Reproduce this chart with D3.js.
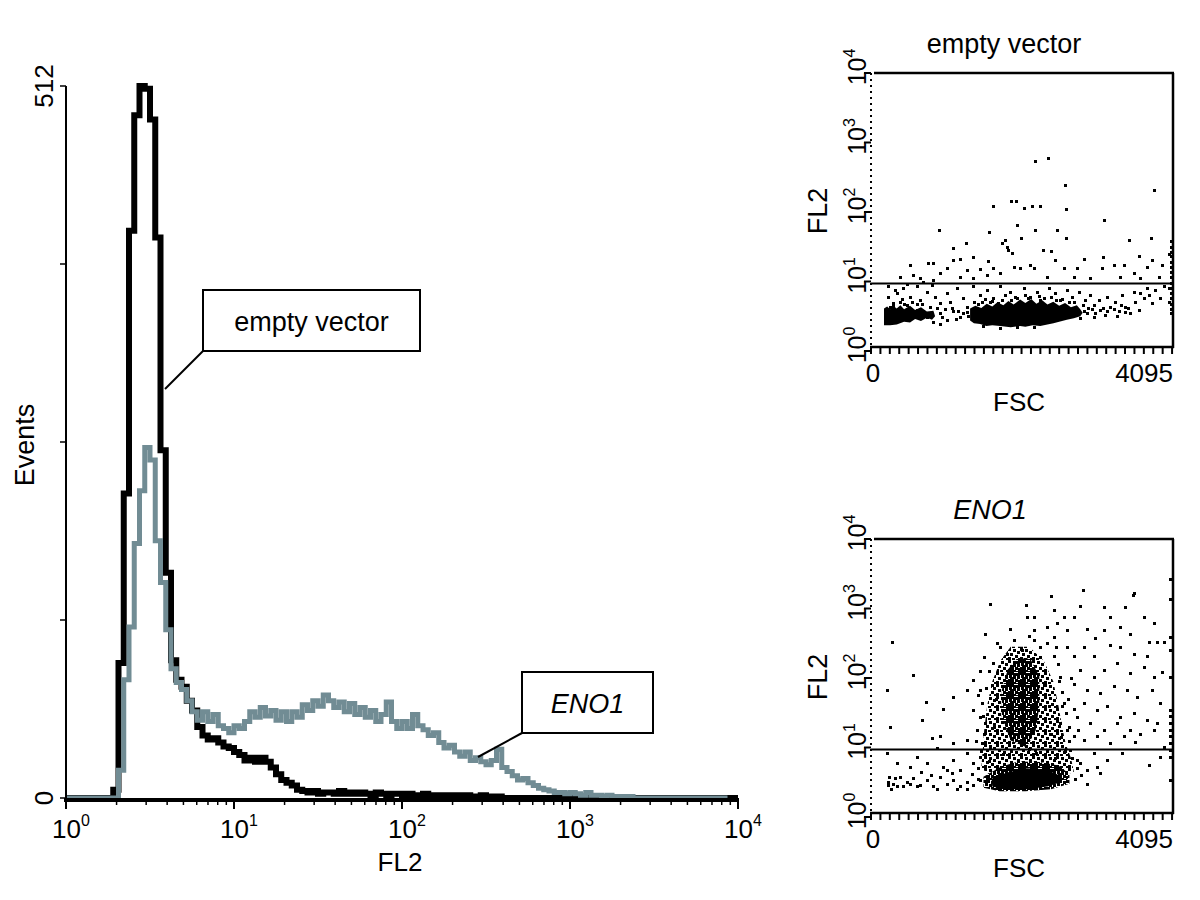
<!DOCTYPE html>
<html><head><meta charset="utf-8">
<script src="https://cdn.jsdelivr.net/npm/d3@7"></script>
<style>body{margin:0;background:#fff}svg{display:block}</style>
</head><body>
<script>
// ---------------- DATA ----------------
// Histogram: 128 channels over 4 decades of FL2 (channel c starts at log10 = c/32)
const histChannels = d3.range(128);
const emptyVectorCounts = [0,0,0,0,0,0,0,0,0,6,97,219,408,491,512,510,488,403,250,162,99,85,80,70,63,51,45,42,43,40,37,36,33,31,27,29,26,29,26,22,17,13,11,9,6,5,4,5,3,4,4,3,5,3,4,3,4,3,2,4,3,2,3,3,2,3,2,2,3,2,1,2,2,1,2,1,2,1,1,2,1,1,1,0,0,0,0,0,0,0,0,0,0,0,0,0,0,0,0,0,0,0,0,0,0,0,0,0,0,0,0,0,0,0,0,0,0,0,0,0,0,0,0,0,0,0,0,0];
const eno1Counts = [0,0,0,0,0,0,0,0,0,0,20,85,123,183,221,252,243,185,155,121,93,83,78,70,62,56,62,55,60,52,50,47,52,50,55,62,58,65,59,63,56,62,55,62,58,67,63,70,66,74,70,65,69,62,68,60,65,58,63,55,60,69,55,50,55,50,60,52,49,45,47,40,36,38,33,30,33,27,29,26,24,27,35,22,19,16,13,14,11,9,7,6,5,4,4,3,4,3,2,4,2,2,1,2,1,1,1,1,0,0,0,0,0,0,0,0,0,0,0,0,0,0,0,0,0,0];
const histYTicks = [0,128,256,384,512];
const histYLabels = ["0","512"];
const decadeExps = [0,1,2,3,4];
const histXLabel = "FL2";
const histYLabel = "Events";
const calloutEmpty = "empty vector";
const calloutEno = "ENO1";

// Scatter plots: points as [FSC channel, log10 FL2]
const fscTickStep = 128;
const fscLabels = ["0","4095"];
const gateLog = 0.97;
const evCoreLeft = [[177,0.61],[220,0.64],[260,0.60],[300,0.65],[350,0.61],[400,0.66],[450,0.60],[531,0.65],[600,0.59],[680,0.63],[760,0.57],[849,0.58],[872,0.50],[830,0.45],[760,0.48],[680,0.43],[600,0.46],[531,0.41],[450,0.42],[350,0.38],[260,0.37],[177,0.37]];
const evCoreMain = [[1348,0.61],[1420,0.65],[1500,0.62],[1575,0.68],[1650,0.64],[1720,0.70],[1800,0.66],[1870,0.72],[1940,0.67],[2029,0.74],[2100,0.69],[2180,0.75],[2250,0.68],[2330,0.73],[2400,0.67],[2480,0.71],[2560,0.65],[2640,0.69],[2720,0.63],[2800,0.66],[2847,0.60],[2880,0.55],[2847,0.50],[2760,0.47],[2665,0.45],[2560,0.42],[2483,0.40],[2400,0.38],[2302,0.36],[2200,0.37],[2100,0.35],[2029,0.36],[1900,0.34],[1757,0.36],[1650,0.37],[1570,0.36],[1485,0.39],[1400,0.40],[1348,0.44]];
const evPoints = [[2234,2.74],[2402,2.78],[2633,2.39],[3854,2.31],[1653,2.09],[1902,2.16],[1975,2.16],[2084,2.06],[2197,2.09],[2302,2.09],[2651,2.04],[3164,1.89],[1984,1.81],[931,1.74],[2234,1.74],[2529,1.74],[1612,1.71],[2656,1.62],[2043,1.62],[1825,1.60],[3809,1.62],[3505,1.59],[1289,1.56],[1112,1.48],[2338,1.46],[2447,1.44],[1870,1.45],[3641,1.36],[3823,1.31],[3155,1.35],[3301,1.24],[3437,1.24],[531,1.24],[781,1.27],[840,1.26],[1121,1.31],[1212,1.33],[1394,1.35],[1598,1.29],[1666,1.19],[1757,1.12],[1939,1.21],[2029,1.20],[2166,1.24],[2211,1.19],[2506,1.31],[2620,1.19],[2801,1.19],[2892,1.33],[1780,1.55],[1848,1.50],[1916,1.41],[3959,1.24],[3755,1.21],[3573,1.12],[3142,1.19],[940,1.12],[1031,1.19],[1303,1.17],[1485,1.18],[395,1.07],[577,1.09],[667,1.05],[849,1.02],[1212,1.07],[1394,1.05],[1575,1.09],[2393,1.07],[2756,1.07],[2983,1.05],[3391,1.07],[3664,1.05],[3913,1.07],
[4080,1.58],[4080,1.50],[4080,1.43],[4080,1.36],[4080,1.28],[4080,1.21],[4080,1.13],[4080,1.06],[4080,0.98],[4080,0.91],[4080,0.83],[4080,0.76],[4080,0.68],[4080,0.61],[4080,0.54],[4060,1.40],[4060,0.90],[4060,0.70],
[236,0.93],[350,0.83],[440,0.90],[531,0.78],[622,0.93],[667,0.73],[758,0.85],[826,0.95],[872,0.78],[940,0.69],[1031,0.83],[1076,0.71],[1167,0.90],[1258,0.76],[1303,0.64],[940,0.54],[1031,0.45],[1121,0.57],[1212,0.49],[622,0.59],[758,0.49],[849,0.42],[236,0.78],[304,0.69],[395,0.71],[486,0.66],[259,0.64],
[1394,0.93],[1485,0.81],[1575,0.88],[1666,0.76],[1757,0.93],[1825,0.81],[1893,0.85],[1984,0.76],[2075,0.90],[2166,0.78],[2256,0.85],[2347,0.76],[2415,0.90],[2506,0.83],[2574,0.73],[2665,0.88],[2733,0.78],[2824,0.85],[2915,0.73],[1507,0.71],[1734,0.69],
[2983,0.81],[3028,0.66],[3096,0.73],[3119,0.59],[3210,0.78],[3255,0.64],[3323,0.71],[3369,0.57],[3414,0.81],[3460,0.64],[3528,0.54],[3596,0.71],[3641,0.59],[3709,0.76],[3777,0.81],[3823,0.69],[3755,0.90],[3868,0.88],[3936,0.76],[3982,0.93],[2937,0.54],[2847,0.47],[3028,0.49],[3210,0.57],[3573,0.85],[3664,0.83],
[1757,0.33],[1984,0.35],[2211,0.34],[1530,0.36],[940,0.39],[486,0.97],[713,1.0],
[1100,0.62],[1180,0.58],[1250,0.55],[1320,0.50],[1000,0.60],[2900,0.58],[2950,0.62],[3050,0.55],[3150,0.62],[3300,0.60],[3400,0.66],[3500,0.62],[2100,0.80],[1900,0.74],[2300,0.73],[2450,0.78],[1650,0.72],[1550,0.75],[560,0.70],[700,0.68],[800,0.64],[420,0.75],[330,0.88],[1400,0.70],[2600,0.75],[2700,0.70],
[1450,0.68],[1620,0.70],[1780,0.73],[1960,0.78],[2140,0.76],[2280,0.79],[2520,0.74],[2760,0.71],[2880,0.66],[3000,0.60],[3180,0.52],[3340,0.50],[3460,0.56],[300,0.66],[450,0.68],[620,0.67],[900,0.62],[960,0.49],[1150,0.46],[1300,0.56]];
const enoCloud = [[1900,2.45],[2150,2.45],[2350,2.25],[2480,1.95],[2550,1.60],[2600,1.30],[2650,1.05],[2720,0.85],[2760,0.65],[2600,0.58],[1650,0.58],[1500,0.70],[1520,0.95],[1540,1.25],[1580,1.60],[1650,1.95],[1760,2.25]];
const enoCore = [[1984,2.28],[2166,2.28],[2290,2.02],[2290,1.59],[2240,1.25],[2120,1.00],[1900,1.10],[1780,1.44],[1780,1.83],[1860,2.12]];
const enoBaseCloud = [[1530,0.58],[1760,0.72],[2000,0.80],[2300,0.79],[2550,0.74],[2700,0.62],[2700,0.48],[2450,0.40],[2100,0.37],[1750,0.37],[1530,0.42]];
const enoBase = [[1640,0.55],[1848,0.64],[2120,0.70],[2393,0.68],[2560,0.60],[2580,0.50],[2400,0.44],[2120,0.40],[1800,0.40],[1650,0.44]];
const enoPoints = [[1621,3.06],[2447,3.18],[2883,3.26],[3559,3.19],[3582,3.22],[3164,3.02],[3460,3.02],[2111,3.05],[2120,2.88],[2211,2.88],[2483,2.98],[2620,2.88],[2756,2.88],[2847,3.03],[3255,2.88],[3709,2.88],[3845,2.79],[1553,2.64],[281,2.52],[1893,2.71],[2211,2.69],[2393,2.74],[2529,2.79],[2665,2.69],[2937,2.71],[3051,2.57],[3164,2.69],[3391,2.74],[3528,2.64],[3777,2.52],[3891,2.52],[3982,2.52],[3255,2.47],[3391,2.45],[3573,2.35],[3755,2.31],[3028,2.31],[2892,2.45],[2756,2.31],[2665,2.45],[2483,2.59],[3164,2.12],[3346,2.21],[3528,2.07],[3709,2.16],[3845,2.02],[3959,2.09],[3028,2.02],[2847,2.12],[2756,1.92],[2937,1.83],[3119,1.78],[3301,1.88],[3482,1.83],[3618,1.73],[3823,1.83],[3936,1.64],[2892,1.64],[3073,1.54],[3210,1.59],[3391,1.44],[3573,1.49],[3755,1.40],[3891,1.35],[2801,1.44],[2983,1.35],[3164,1.25],[3346,1.35],[3528,1.25],[3664,1.20],[3845,1.25],[2892,1.11],[3073,1.16],[3255,1.06],[3437,1.16],[3596,1.08],[3982,1.01],[3028,0.92],[3210,0.82],[3414,0.92],[3777,0.75],[3936,0.87],[2937,0.68],[3119,0.63],[2937,0.48],[3073,0.72],
[577,2.04],[213,1.83],[749,1.66],[985,1.56],[1121,1.73],[1303,1.83],[1394,1.97],[690,1.40],[259,1.30],[826,1.13],[940,1.16],[1121,1.06],[1303,1.11],[1439,1.25],[1485,1.44],[1507,1.64],[1394,1.54],[1485,1.83],
[213,0.92],[350,0.77],[531,0.72],[622,0.87],[758,0.77],[894,0.99],[985,0.72],[1121,0.82],[1212,0.68],[1303,0.92],[1394,0.77],[1485,0.87],[245,0.58],[304,0.48],[395,0.58],[486,0.51],[577,0.56],[667,0.46],[758,0.53],[849,0.44],[940,0.58],[1031,0.48],[1121,0.53],[1212,0.44],[1303,0.51],[1394,0.46],[1485,0.53],[1031,0.68],[1098,0.63],[531,0.48],[440,0.44],[350,0.44],[681,0.65],[817,0.60],[894,0.41],[1167,0.41],[236,0.51],[236,0.46],[268,0.41],[327,0.56],[622,0.44],[1303,0.41],
[1553,1.35],[1507,1.06],[2574,1.35],[2620,1.64],[2574,2.02],[2483,2.31],[1757,2.45],[1666,2.21],[1712,2.50],[2211,2.55],[2302,2.45],[2710,0.96],[2756,1.16],[2665,1.25],[2801,0.82],
[4072,3.43],[4072,3.14],[4072,2.59],[4072,2.40],[4072,2.02],[4072,1.54],[4072,1.45],[4072,1.35],[4072,1.25],[4072,1.16],[4072,1.06],[4072,0.96],[4072,0.87],[4072,0.53],
[1650,1.9],[1700,1.7],[1680,1.3],[1620,1.0],[1600,0.8],[2350,1.9],[2420,1.6],[2450,1.2],[2400,0.95],[2500,0.85],[2300,2.3],[1850,2.35],[2050,2.4],[2600,1.8],[2650,1.5],[2700,1.3],[2550,2.2],[1800,0.9],[1900,0.95],[2000,1.0],[2150,0.98],[2250,0.92],
[1540,2.30],[1600,2.10],[1560,1.85],[1520,1.45],[1540,1.20],[1500,0.95],[2520,2.45],[2560,1.95],[2600,1.60],[2580,1.15],[2640,0.95],[2740,0.85],[1950,2.55],[2150,2.60],[2400,2.50],[1460,0.70],[1450,0.55],[2780,0.55],[2800,0.70],[2860,0.60],
[1430,1.10],[1460,1.75],[1480,2.10],[2680,1.70],[2720,2.00],[2700,1.10],[2820,1.25],[2760,1.55],[1380,0.62],[2850,0.78]];

// ---------------- DRAW ----------------
const FONT = "'Liberation Sans', Arial, Helvetica, sans-serif";
const svg = d3.select("body").append("svg").attr("width",1200).attr("height",900)
  .style("font-family", FONT);
svg.append("rect").attr("width",1200).attr("height",900).attr("fill","#fff");

const defs = svg.append("defs");
function pattern(id, cells){
  const p = defs.append("pattern").attr("id",id).attr("width",12).attr("height",12).attr("patternUnits","userSpaceOnUse");
  cells.forEach(r=>p.append("rect").attr("x",r[0]).attr("y",r[1]).attr("width",3).attr("height",3).attr("fill","#000"));
}
pattern("speck", [[0,0],[5,1],[9,3],[2,5],[7,7],[0,9],[10,10],[4,10]]);
pattern("speckDense", [[0,0],[3,0],[7,1],[10,0],[1,3],[5,4],[9,4],[0,7],[3,7],[7,7],[10,8],[2,10],[5,10],[8,11]]);

// ---- Histogram ----
const xH = d3.scaleLinear().domain([0,4]).range([66,738]);
const yH = d3.scaleLinear().domain([0,512]).range([798,86]);
function histPath(vals){
  const pts = histChannels.map(c => [c/32, vals[c]]);
  pts.push([4, vals[vals.length-1]]);
  return d3.line().x(d=>xH(d[0])).y(d=>yH(d[1])).curve(d3.curveStepAfter)(pts);
}
svg.append("path").attr("d",histPath(emptyVectorCounts)).attr("fill","none")
  .attr("stroke","#000").attr("stroke-width",6).attr("stroke-linejoin","miter");
svg.append("path").attr("d",histPath(eno1Counts)).attr("fill","none")
  .attr("stroke","#718c94").attr("stroke-width",5).attr("stroke-linejoin","miter");

// y axis
svg.append("line").attr("x1",xH(0)).attr("x2",xH(0)).attr("y1",yH(512)).attr("y2",801)
  .attr("stroke","#000").attr("stroke-width",2);
svg.selectAll(".hyt").data(histYTicks).enter().append("line")
  .attr("x1",xH(0)-6).attr("x2",xH(0)).attr("y1",d=>yH(d)).attr("y2",d=>yH(d))
  .attr("stroke","#000").attr("stroke-width",1.5);
[[0,histYLabels[0]],[512,histYLabels[1]]].forEach(([v,t])=>{
  svg.append("text").attr("transform",`translate(53,${yH(v)}) rotate(-90)`)
    .attr("text-anchor","middle").attr("font-size",26).text(t);
});
svg.append("text").attr("transform",`translate(34,445) rotate(-90)`)
  .attr("text-anchor","middle").attr("font-size",27).text(histYLabel);

// x axis
svg.append("line").attr("x1",xH(0)-2).attr("x2",xH(4)+1).attr("y1",800).attr("y2",800)
  .attr("stroke","#000").attr("stroke-width",4);
const minor = [];
decadeExps.slice(0,4).forEach(e=>{ for(let k=2;k<10;k++) minor.push(e+Math.log10(k)); });
svg.selectAll(".hmin").data(minor).enter().append("line")
  .attr("x1",d=>xH(d)).attr("x2",d=>xH(d)).attr("y1",801).attr("y2",805)
  .attr("stroke","#000").attr("stroke-width",1.5);
svg.selectAll(".hmaj").data(decadeExps).enter().append("line")
  .attr("x1",d=>xH(d)).attr("x2",d=>xH(d)).attr("y1",801).attr("y2",809)
  .attr("stroke","#000").attr("stroke-width",2);
decadeExps.forEach(e=>{
  const t = svg.append("text").attr("x",xH(e)-14).attr("y",838).attr("font-size",26);
  t.append("tspan").text("10");
  t.append("tspan").attr("dy",-12).attr("font-size",16).text(String(e));
});
svg.append("text").attr("x",400).attr("y",871).attr("text-anchor","middle").attr("font-size",26).text(histXLabel);

// callouts
function callout(x0,y0,x1,y1,px,py,label,italic){
  svg.append("line").attr("x1",x0).attr("y1",y1).attr("x2",px).attr("y2",py)
    .attr("stroke","#000").attr("stroke-width",2);
  svg.append("rect").attr("x",x0).attr("y",y0).attr("width",x1-x0).attr("height",y1-y0)
    .attr("fill","#fff").attr("stroke","#000").attr("stroke-width",2);
  svg.append("text").attr("x",(x0+x1)/2).attr("y",(y0+y1)/2+10).attr("text-anchor","middle")
    .attr("font-size",27).attr("font-style",italic?"italic":"normal").text(label);
}
callout(203,290,420,351,165,389,calloutEmpty,false);
callout(522,672,653,733,478,757,calloutEno,true);

// ---- Scatter plots ----
function scatter(cfg){
  const x = d3.scaleLinear().domain([0,4095]).range([871,1172]);
  const y = d3.scaleLinear().domain([0,4]).range([cfg.y0, cfg.y0-278]);
  const top = cfg.y0-278, bot = cfg.y0-4;
  const g = svg.append("g");
  const line = d3.line().x(d=>x(d[0])).y(d=>y(d[1])).curve(d3.curveLinearClosed);
  (cfg.fills||[]).forEach(f=>{
    g.append("path").attr("d",line(f.poly)).attr("fill",f.fill);
  });
  g.selectAll(".pt").data(cfg.points).enter().append("rect")
    .attr("x",d=>Math.round(x(d[0]))-1).attr("y",d=>Math.round(y(d[1]))-1)
    .attr("width",3).attr("height",3).attr("fill","#000");
  // gate line
  g.append("line").attr("x1",871).attr("x2",1172).attr("y1",y(gateLog)).attr("y2",y(gateLog))
    .attr("stroke","#000").attr("stroke-width",2);
  // frame
  g.append("line").attr("x1",874).attr("x2",1174).attr("y1",top).attr("y2",top).attr("stroke","#000").attr("stroke-width",2.5);
  g.append("line").attr("x1",1173).attr("x2",1173).attr("y1",top).attr("y2",bot+1).attr("stroke","#000").attr("stroke-width",2.5);
  g.append("line").attr("x1",870).attr("x2",1174).attr("y1",bot).attr("y2",bot).attr("stroke","#000").attr("stroke-width",2.5);
  g.append("line").attr("x1",871).attr("x2",871).attr("y1",top).attr("y2",bot)
    .attr("stroke","#000").attr("stroke-width",2).attr("stroke-dasharray","2,4");
  // x ticks
  g.selectAll(".xt").data(d3.range(0,4097,fscTickStep)).enter().append("line")
    .attr("x1",d=>x(d)).attr("x2",d=>x(d)).attr("y1",bot).attr("y2",bot+7)
    .attr("stroke","#000").attr("stroke-width",2);
  // y ticks
  g.selectAll(".yt").data(decadeExps).enter().append("line")
    .attr("x1",864).attr("x2",871).attr("y1",d=>y(d)).attr("y2",d=>y(d))
    .attr("stroke","#000").attr("stroke-width",2);
  decadeExps.forEach(e=>{
    const t = g.append("text").attr("transform",`translate(866,${y(e)-6}) rotate(-90)`)
      .attr("text-anchor","middle").attr("font-size",25);
    t.append("tspan").text("10");
    t.append("tspan").attr("dy",-11).attr("font-size",16).text(String(e));
  });
  g.append("text").attr("x",873).attr("y",cfg.y0+31).attr("text-anchor","middle").attr("font-size",26).text(fscLabels[0]);
  g.append("text").attr("x",1173).attr("y",cfg.y0+31).attr("text-anchor","end").attr("font-size",26).text(fscLabels[1]);
  g.append("text").attr("x",1019).attr("y",cfg.y0+60).attr("text-anchor","middle").attr("font-size",26).text("FSC");
  g.append("text").attr("transform",`translate(827,${cfg.y0-140}) rotate(-90)`)
    .attr("text-anchor","middle").attr("font-size",27).text("FL2");
  g.append("text").attr("x",cfg.titleX).attr("y",top-20).attr("text-anchor","middle")
    .attr("font-size",27).attr("font-style",cfg.italic?"italic":"normal").text(cfg.title);
}
scatter({y0:351, title:calloutEmpty, titleX:1004, italic:false, points:evPoints,
  fills:[{poly:evCoreLeft,fill:"#000"},{poly:evCoreMain,fill:"#000"}]});
scatter({y0:817, title:calloutEno, titleX:990, italic:true, points:enoPoints,
  fills:[{poly:enoCloud,fill:"url(#speck)"},{poly:enoBaseCloud,fill:"url(#speckDense)"},{poly:enoCore,fill:"url(#speckDense)"},{poly:enoBase,fill:"#000"}]});
</script>
</body></html>
